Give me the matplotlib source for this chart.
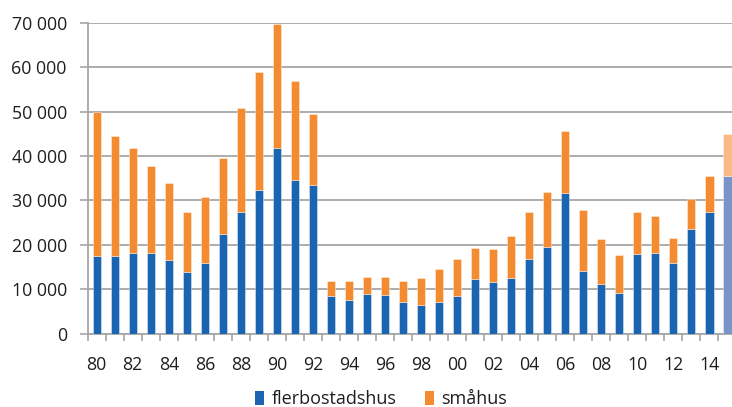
import matplotlib
matplotlib.use("Agg")
import matplotlib.pyplot as plt
import numpy as np
from matplotlib.patches import Patch

years = list(range(1980, 2016))
flerbostadshus = [17400, 17550, 18200, 18150, 16650, 13800, 15900, 22500, 27450, 32450,
                  41700, 34650, 33500, 8550, 7650, 9000, 8700, 7200, 6450, 7200,
                  8550, 12250, 11600, 12600, 16850, 19550, 31700, 14100, 11200, 9200,
                  18000, 18200, 15950, 23550, 27350, 35550]
totals = [50000, 44400, 41800, 37700, 34000, 27450, 30700, 39650, 50750, 58850,
          69600, 56800, 49400, 11800, 11800, 12700, 12750, 11850, 12500, 14550,
          16800, 19400, 19050, 22000, 27450, 31850, 45600, 27800, 21350, 17700,
          27350, 26600, 21500, 30300, 35600, 44900]
smahus = [t - f for t, f in zip(totals, flerbostadshus)]
yticks = [0, 10000, 20000, 30000, 40000, 50000, 60000, 70000]
ytick_labels = ["0", "10 000", "20 000", "30 000", "40 000", "50 000", "60 000", "70 000"]

BLUE = "#1b64b1"
ORANGE = "#f48b30"
BLUE_L = "#7894c8"
ORANGE_L = "#fbb986"

plt.rcParams['font.family'] = ['Open Sans', 'DejaVu Sans']

W, H = 732, 407
fig = plt.figure(figsize=(W / 100, H / 100), dpi=100)
left, right, bottom, top = 87.7, 736.4, 333.7, 22.7
ax = fig.add_axes([left / W, (H - bottom) / H, (right - left) / W, (bottom - top) / H])

x = np.arange(len(years))
bcols = [BLUE] * (len(years) - 1) + [BLUE_L]
ocols = [ORANGE] * (len(years) - 1) + [ORANGE_L]
bw = 0.46
ax.bar(x, flerbostadshus, width=bw, color=bcols, edgecolor=(1, 1, 1, 0.45), linewidth=0.6, zorder=3)
ax.bar(x, smahus, bottom=flerbostadshus, width=bw, color=ocols, edgecolor=(1, 1, 1, 0.45), linewidth=0.6, zorder=3)

ax.set_xlim(-0.5, len(years) - 0.5)
ax.set_ylim(0, 70000)
ax.set_yticks(yticks)
ax.set_yticklabels(ytick_labels)
ax.yaxis.grid(True, color="#a6a6a6", linewidth=1.3, zorder=0)
ax.set_axisbelow(True)

ax.set_xticks(x[::2])
ax.set_xticklabels([f"{y % 100:02d}" for y in years[::2]])
ax.set_xticks(np.arange(-0.5, len(years), 1), minor=True)
ax.tick_params(axis='x', which='major', length=0, pad=16, labelsize=12.8, colors="#1e1e1e")
ax.tick_params(axis='x', which='minor', length=5, width=1.2, color="#a6a6a6")
ax.tick_params(axis='y', which='major', length=6, width=1.2, color="#a6a6a6", pad=9,
               labelsize=12.8, labelcolor="#1e1e1e")

for s in ["top", "right"]:
    ax.spines[s].set_visible(False)
for s in ["left", "bottom"]:
    ax.spines[s].set_color("#a6a6a6")
    ax.spines[s].set_linewidth(1.3)

handles = [Patch(facecolor=BLUE, label="flerbostadshus"), Patch(facecolor=ORANGE, label="småhus")]
fig.legend(handles=handles, loc="center", bbox_to_anchor=(381 / W, 1 - 399 / H), ncol=2,
           frameon=False, fontsize=13, handlelength=0.5, handleheight=0.8,
           handletextpad=0.4, columnspacing=1.6, labelcolor="#1e1e1e")

fig.savefig("out.png", dpi=100)
